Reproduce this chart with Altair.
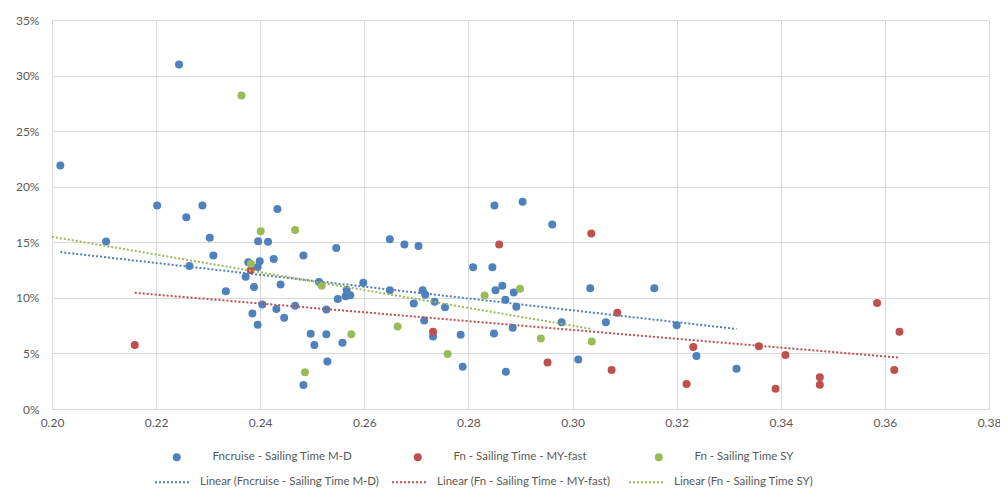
import altair as alt
import pandas as pd

# ---- data (x = Fn, y = sailing time in %) ----
md_name = "Fncruise - Sailing Time M-D"
my_name = "Fn - Sailing Time - MY-fast"
sy_name = "Fn - Sailing Time SY"

md_x = [0.2244, 0.2016, 0.2202, 0.2289, 0.2433, 0.2258, 0.2104, 0.2303, 0.2396, 0.2415,
        0.2546, 0.2310, 0.2483, 0.2426, 0.2399, 0.2377, 0.2264, 0.2395, 0.2372, 0.2598,
        0.2513, 0.2439, 0.2334, 0.2388, 0.2566, 0.2564, 0.2573, 0.2549, 0.2404, 0.2467,
        0.2431, 0.2527, 0.2385, 0.2446, 0.2395, 0.2497, 0.2527, 0.2504, 0.2558, 0.2529,
        0.2483, 0.2850, 0.2904, 0.2961, 0.2649, 0.2677, 0.2704, 0.2809, 0.2846, 0.2649,
        0.2712, 0.2717, 0.2852, 0.2865, 0.2887, 0.3034, 0.3157, 0.2695, 0.2735, 0.2755,
        0.2871, 0.2892, 0.2715, 0.2979, 0.3064, 0.3200, 0.2732, 0.2785, 0.2849, 0.2885,
        0.3011, 0.2789, 0.2872, 0.3238, 0.3315]
md_y = [31.0, 21.9, 18.3, 18.3, 18.0, 17.25, 15.07, 15.4, 15.1, 15.04,
        14.48, 13.8, 13.8, 13.5, 13.3, 13.2, 12.87, 12.78, 11.9, 11.37,
        11.43, 11.2, 10.6, 10.98, 10.7, 10.15, 10.24, 9.9, 9.4, 9.28,
        8.99, 8.96, 8.6, 8.2, 7.58, 6.78, 6.72, 5.76, 5.97, 4.27,
        2.15, 18.3, 18.65, 16.6, 15.27, 14.8, 14.67, 12.75, 12.75, 10.69,
        10.69, 10.27, 10.69, 11.08, 10.48, 10.87, 10.87, 9.49, 9.64, 9.16,
        9.82, 9.19, 7.96, 7.81, 7.81, 7.54, 6.53, 6.68, 6.8, 7.31,
        4.46, 3.8, 3.35, 4.77, 3.63]

my_x = [0.2159, 0.2382, 0.3036, 0.2859, 0.3086, 0.2732, 0.2952, 0.3075, 0.3232, 0.3219,
        0.3358, 0.3409, 0.3390, 0.3475, 0.3475, 0.3585, 0.3628, 0.3618]
my_y = [5.76, 12.48, 15.8, 14.8, 8.65, 6.95, 4.19, 3.5, 5.58, 2.25,
        5.64, 4.86, 1.83, 2.85, 2.19, 9.54, 6.96, 3.51]

sy_x = [0.2364, 0.2401, 0.2467, 0.2382, 0.2518, 0.2575, 0.2486, 0.2899, 0.2831, 0.2664,
        0.2939, 0.3037, 0.2760]
sy_y = [28.2, 16.0, 16.1, 13.07, 11.1, 6.72, 3.3, 10.81, 10.21, 7.43,
        6.35, 6.08, 4.94]

# linear trend lines (end points)
trend_names = ["Linear (Fncruise - Sailing Time M-D)",
               "Linear (Fn - Sailing Time - MY-fast)",
               "Linear (Fn - Sailing Time SY)"]
trend_x0 = [0.2016, 0.2159, 0.2000]
trend_y0 = [14.12, 10.45, 15.5]
trend_x1 = [0.3315, 0.3628, 0.3037]
trend_y1 = [7.2, 4.62, 7.2]

series_names = [md_name, my_name, sy_name]
colors = ["#4F81BD", "#C0504D", "#9BBB59"]

x_ticks = [0.20, 0.22, 0.24, 0.26, 0.28, 0.30, 0.32, 0.34, 0.36, 0.38]
y_ticks = [0, 5, 10, 15, 20, 25, 30, 35]

# ---- tables ----
rows = []
for name, xs, ys in [(md_name, md_x, md_y), (my_name, my_x, my_y), (sy_name, sy_x, sy_y)]:
    for a, b in zip(xs, ys):
        rows.append({"series": name, "fn": a, "time": b})
points_df = pd.DataFrame(rows)

trows = []
for n, a0, b0, a1, b1 in zip(trend_names, trend_x0, trend_y0, trend_x1, trend_y1):
    trows.append({"trend": n, "fn": a0, "time": b0})
    trows.append({"trend": n, "fn": a1, "time": b1})
trend_df = pd.DataFrame(trows)

FONT = "Lato"
LABEL_COLOR = "#595959"
GRID = "#d9d9d9"
LEG_FS = 11.5

x_enc = alt.X("fn:Q",
              scale=alt.Scale(domain=[0.20, 0.38], nice=False, zero=False),
              axis=alt.Axis(values=x_ticks, format=".2f", title=None, grid=True,
                            gridColor=GRID, domainColor=GRID, ticks=False,
                            labelPadding=8, labelFlush=False))
y_enc = alt.Y("time:Q",
              scale=alt.Scale(domain=[0, 35], nice=False),
              axis=alt.Axis(values=y_ticks, labelExpr="datum.value + '%'", title=None,
                            grid=True, gridColor=GRID, domainColor=GRID, ticks=False,
                            labelPadding=13))

points = alt.Chart(points_df).mark_circle(size=64, opacity=1).encode(
    x=x_enc,
    y=y_enc,
    fill=alt.Fill("series:N",
                  scale=alt.Scale(domain=series_names, range=colors),
                  sort=series_names,
                  legend=alt.Legend(orient="none", legendX=119, legendY=431,
                                    direction="horizontal", columns=3, gridAlign="all",
                                    title=None, symbolType="circle", symbolSize=64,
                                    symbolStrokeWidth=0, labelOffset=30,
                                    columnPadding=59, padding=0, labelLimit=400,
                                    labelFont=FONT, labelFontSize=LEG_FS,
                                    labelColor=LABEL_COLOR)),
)

lines = alt.Chart(trend_df).mark_line(strokeDash=[2, 2], strokeWidth=2).encode(
    x="fn:Q",
    y="time:Q",
    detail="trend:N",
    stroke=alt.Stroke("trend:N",
                      scale=alt.Scale(domain=trend_names, range=colors),
                      sort=trend_names,
                      legend=alt.Legend(orient="none", legendX=102, legendY=443,
                                        direction="horizontal", columns=3, gridAlign="all",
                                        title=None, symbolType="stroke", symbolSize=1296,
                                        symbolDash=[2, 2], symbolStrokeWidth=2,
                                        labelOffset=8, columnPadding=8, padding=0,
                                        labelLimit=400,
                                        labelFont=FONT, labelFontSize=LEG_FS,
                                        labelColor=LABEL_COLOR)),
)

chart = alt.layer(points, lines).properties(
    width=937,
    height=389,
    autosize=alt.AutoSizeParams(type="none"),
    padding={"left": 44, "top": 12, "right": 11, "bottom": 80},
    background="white",
).configure_view(
    strokeWidth=0
).configure_axis(
    labelFont=FONT,
    labelFontSize=12,
    labelColor=LABEL_COLOR,
)

chart.save("out.html", embed_options={"renderer": "svg", "actions": False})
